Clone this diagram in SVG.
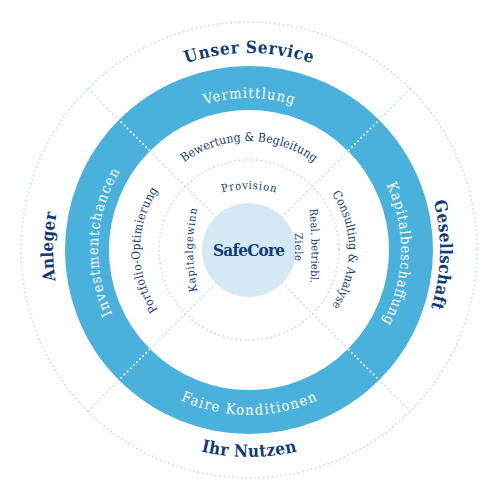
<svg xmlns="http://www.w3.org/2000/svg" width="500" height="500" viewBox="0 0 500 500">
<style>
.dot{fill:none;stroke:#c4e1f3;stroke-width:2;stroke-linecap:round;stroke-dasharray:0 4.4}
.wdot{fill:none;stroke:#ffffff;stroke-width:2;stroke-linecap:round;stroke-dasharray:0 4.4}
.f{font-family:"DejaVu Serif Condensed","DejaVu Serif","Liberation Serif",serif}
.outer{font-weight:bold;font-size:17px;fill:#0f3c78}
.ring{font-size:14.5px;fill:#ffffff}
.inner{font-size:12px;fill:#0f3c78}
.core{font-size:11px;fill:#0f3c78}
</style>
<defs>
<path id="pTop" d="M52,250 A197,197 0 0 1 446,250"/>
<path id="pBottom" d="M42,250 A207,207 0 0 0 456,250"/>
<path id="pLeft" d="M249,446 A196,196 0 0 1 249,54"/>
<path id="pRight" d="M249,59 A191,191 0 0 1 249,441"/>
<path id="rTop" d="M97,250 A152,152 0 0 1 401,250"/>
<path id="rBottom" d="M84,250 A165,165 0 0 0 414,250"/>
<path id="rLeft" d="M249,401 A151,151 0 0 1 249,99"/>
<path id="rRight" d="M249,98 A152,152 0 0 1 249,402"/>
<path id="iTop" d="M140,250 A109,109 0 0 1 358,250"/>
<path id="iLeft" d="M249,359 A109,109 0 0 1 249,141"/>
<path id="iRight" d="M249,150 A100,100 0 0 1 249,350"/>
<path id="cTop" d="M149,289 A100,100 0 0 1 349,289"/>
<path id="cLeft" d="M393,450 A200,200 0 0 1 393,50"/>
<path id="cRight1" d="M298.8,150 A400,400 0 0 1 298.8,350"/>
<path id="cRight2" d="M282.3,150 A400,400 0 0 1 282.3,350"/>
</defs>
<rect width="500" height="500" fill="#ffffff"/>
<g id="connectors">
<circle class="dot" cx="249" cy="250" r="228"/>
<circle class="dot" cx="249" cy="250" r="90"/>
<path class="dot" d="M282.2,216.8 L410.2,88.8 M215.8,216.8 L87.8,88.8 M282.2,283.2 L410.2,411.2 M215.8,283.2 L87.8,411.2"/>
</g>
<g id="ring">
<circle cx="249" cy="250" r="162" fill="none" stroke="#4ab1dc" stroke-width="44"/>
<path class="wdot" d="M348.7,150.3 L378.4,120.6 M149.3,150.3 L119.6,120.6 M348.7,349.7 L378.4,379.4 M149.3,349.7 L119.6,379.4"/>
</g>
<g id="core">
<circle cx="249" cy="250" r="47" fill="#d5e9f5"/>
<text class="f" x="249" y="256" text-anchor="middle" textLength="72" font-weight="bold" font-size="17" fill="#0f3c78">SafeCore</text>
</g>
<g id="outer-labels">
<text class="f outer"><textPath href="#pTop" startOffset="50%" text-anchor="middle" textLength="128">Unser Service</textPath></text>
<text class="f outer"><textPath href="#pBottom" startOffset="50%" text-anchor="middle" textLength="97">Ihr Nutzen</textPath></text>
<text class="f outer"><textPath href="#pLeft" startOffset="50.5%" text-anchor="middle" textLength="68">Anleger</textPath></text>
<text class="f outer"><textPath href="#pRight" startOffset="50.8%" text-anchor="middle" textLength="108">Gesellschaft</textPath></text>
</g>
<g id="ring-labels">
<text class="f ring"><textPath href="#rTop" startOffset="50%" text-anchor="middle" textLength="90">Vermittlung</textPath></text>
<text class="f ring"><textPath href="#rBottom" startOffset="50%" text-anchor="middle" textLength="141">Faire Konditionen</textPath></text>
<text class="f ring"><textPath href="#rLeft" startOffset="51.7%" text-anchor="middle" textLength="149">Investmentchancen</textPath></text>
<text class="f ring"><textPath href="#rRight" startOffset="50.8%" text-anchor="middle" textLength="143">Kapitalbeschaffung</textPath></text>
</g>
<g id="inner-labels">
<text class="f inner"><textPath href="#iTop" startOffset="50%" text-anchor="middle" textLength="139">Bewertung &amp; Begleitung</textPath></text>
<text class="f inner"><textPath href="#iLeft" startOffset="50%" text-anchor="middle" textLength="127">Portfolio-Optimierung</textPath></text>
<text class="f inner"><textPath href="#iRight" startOffset="50%" text-anchor="middle" textLength="119">Consulting &amp; Analyse</textPath></text>
</g>
<g id="core-labels">
<text class="f core"><textPath href="#cTop" startOffset="50%" text-anchor="middle" textLength="54">Provision</textPath></text>
<text class="f core"><textPath href="#cLeft" startOffset="50%" text-anchor="middle" textLength="83">Kapitalgewinn</textPath></text>
<text class="f core" font-size="10"><textPath href="#cRight1" startOffset="48%" text-anchor="middle" textLength="74">Real. betriebl.</textPath></text>
<text class="f core" font-size="10"><textPath href="#cRight2" startOffset="48.5%" text-anchor="middle" textLength="28">Ziele</textPath></text>
</g>
</svg>
